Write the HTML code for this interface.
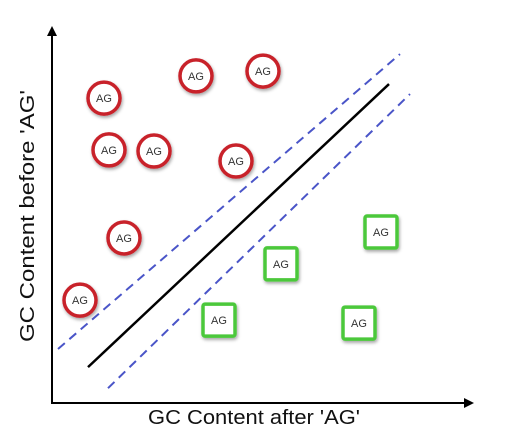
<!DOCTYPE html>
<html><head><meta charset="utf-8"><style>
body{margin:0;background:#fff;}
svg{display:block;font-family:"Liberation Sans",sans-serif;}
</style></head><body>
<svg id="c" width="513" height="437" viewBox="0 0 513 437">
<defs>
<marker id="ah" markerWidth="10" markerHeight="10" refX="8" refY="5" orient="auto" markerUnits="userSpaceOnUse"><path d="M0,0 L10,5 L0,10 z" fill="#000"/></marker>
<filter id="sh" x="-30%" y="-30%" width="160%" height="160%"><feDropShadow dx="1" dy="2" stdDeviation="1.5" flood-opacity="0.35"/></filter>
</defs>
<line x1="52" y1="404" x2="52" y2="28" stroke="#000" stroke-width="2" marker-end="url(#ah)"/>
<line x1="51" y1="403" x2="472" y2="403" stroke="#000" stroke-width="2" marker-end="url(#ah)"/>
<text x="254" y="424" text-anchor="middle" font-size="20" textLength="212" lengthAdjust="spacingAndGlyphs" fill="#111">GC Content after 'AG'</text>
<text transform="translate(34,216) rotate(-90)" text-anchor="middle" font-size="20" textLength="252" lengthAdjust="spacingAndGlyphs" fill="#111">GC Content before 'AG'</text>
<g id="marks"></g>
</svg>
<script>
const circleX=[13,36,52.75,14.25,25.5,46,18,7];
const circleY=[82.4,88.4,89.7,68.4,68.1,65.4,44.6,27.8];
const squareX=[82.25,57.25,41.75,76.75];
const squareY=[46.2,37.6,22.4,21.6];
const solidLine=[[9,9.7],[84.25,86.2]];
const upperLine=[[1.5,14.6],[87,94.3]];
const lowerLine=[[14,4],[89.5,83.5]];
const label="AG";
const sx=v=>52+v*4, sy=v=>403-v*3.7;
const NS="http://www.w3.org/2000/svg", g=document.getElementById('marks');
function mk(t,a){const e=document.createElementNS(NS,t);for(const k in a)e.setAttribute(k,a[k]);g.appendChild(e);return e;}
function line(p,attrs,name){const e=mk('line',Object.assign({x1:sx(p[0][0]),y1:sy(p[0][1]),x2:sx(p[1][0]),y2:sy(p[1][1])},attrs));

}
line(upperLine,{stroke:'#4a55c8','stroke-width':2,'stroke-dasharray':'9,6'},'upper-dashed-line');
line(lowerLine,{stroke:'#4a55c8','stroke-width':2,'stroke-dasharray':'9,6'},'lower-dashed-line');
line(solidLine,{stroke:'#000','stroke-width':2.5},'diagonal-line');
circleX.forEach((x,i)=>{
 const c=mk('circle',{cx:sx(x),cy:sy(circleY[i]),r:16,fill:'#fff',stroke:'#c8202a','stroke-width':3.5,filter:'url(#sh)'});
 
 
 const t=mk('text',{x:sx(x),y:sy(circleY[i])+4,'text-anchor':'middle','font-size':11,fill:'#333'});t.textContent=label;
 
 
});
squareX.forEach((x,i)=>{
 const r=mk('rect',{x:sx(x)-16,y:sy(squareY[i])-16,width:32,height:32,rx:2,fill:'#fff',stroke:'#4cc83a','stroke-width':3.5,filter:'url(#sh)'});
 
 
 const t=mk('text',{x:sx(x),y:sy(squareY[i])+4,'text-anchor':'middle','font-size':11,fill:'#333'});t.textContent=label;
 
 
});
</script>
</body></html>
